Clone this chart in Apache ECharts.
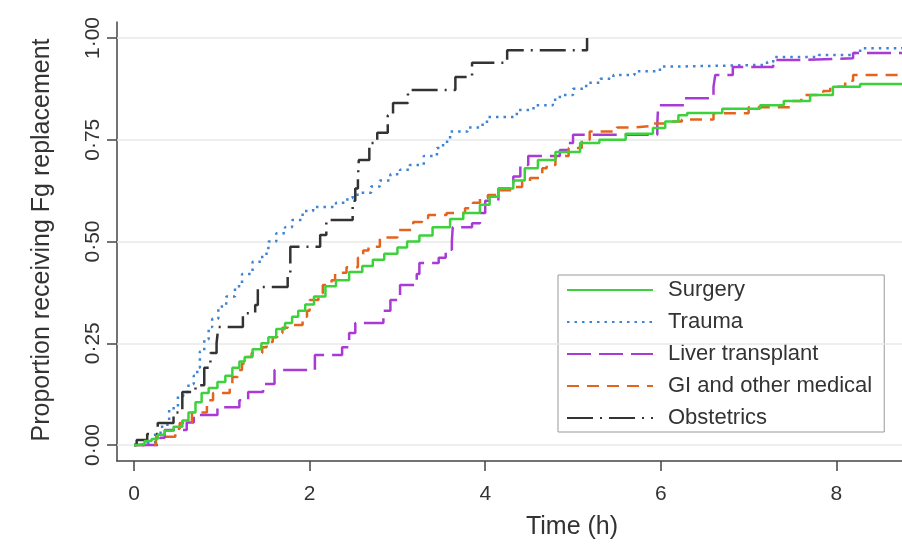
<!DOCTYPE html>
<html>
<head>
<meta charset="utf-8">
<script src="https://cdn.jsdelivr.net/npm/echarts@6/dist/echarts.min.js"></script>
<style>
  html, body { margin: 0; padding: 0; background: #fff; }
  #chart { width: 902px; height: 550px; }
</style>
</head>
<body>
<div id="chart"></div>
<script>
// ---- Data (time in hours, cumulative proportion receiving Fg replacement) ----
const seriesNames = ['Surgery', 'Trauma', 'Liver transplant', 'GI and other medical', 'Obstetrics'];
const xTicks = [0, 2, 4, 6, 8];
const yTicks = [0, 0.25, 0.5, 0.75, 1];
const yTickLabels = ['0·00', '0·25', '0·50', '0·75', '1·00'];

const surgery = [
  [0,0],[0.05,0.003],[0.12,0.01],[0.2,0.015],[0.27,0.025],[0.35,0.035],[0.45,0.045],[0.55,0.06],
  [0.62,0.08],[0.7,0.105],[0.77,0.128],[0.85,0.14],[0.95,0.155],[1.04,0.17],[1.12,0.19],[1.2,0.205],
  [1.26,0.216],[1.35,0.235],[1.45,0.25],[1.53,0.265],[1.62,0.285],[1.72,0.3],[1.8,0.315],[1.87,0.33],
  [1.95,0.345],[2.05,0.365],[2.18,0.39],[2.3,0.405],[2.45,0.425],[2.6,0.44],[2.72,0.455],[2.85,0.47],
  [3.0,0.485],[3.11,0.5],[3.25,0.515],[3.4,0.535],[3.6,0.555],[3.75,0.57],[3.94,0.59],[4.05,0.61],
  [4.15,0.63],[4.32,0.65],[4.45,0.68],[4.6,0.7],[4.8,0.72],[5.08,0.742],[5.3,0.75],[5.6,0.765],
  [5.91,0.779],[6.05,0.795],[6.2,0.81],[6.3,0.816],[6.7,0.826],[7.13,0.835],[7.4,0.845],[7.7,0.86],
  [7.96,0.88],[8.27,0.887],[8.75,0.889]
];
const trauma = [
  [0,0],[0.15,0.005],[0.24,0.03],[0.32,0.05],[0.4,0.09],[0.5,0.12],[0.56,0.13],[0.62,0.15],[0.68,0.17],
  [0.72,0.19],[0.75,0.23],[0.8,0.26],[0.85,0.29],[0.89,0.31],[0.96,0.34],[1.05,0.365],[1.15,0.39],
  [1.23,0.42],[1.35,0.45],[1.46,0.47],[1.53,0.5],[1.62,0.52],[1.72,0.535],[1.8,0.553],[1.92,0.575],
  [2.04,0.585],[2.3,0.595],[2.43,0.607],[2.49,0.615],[2.57,0.62],[2.7,0.635],[2.8,0.65],[2.92,0.665],
  [3.03,0.676],[3.14,0.688],[3.3,0.71],[3.45,0.73],[3.52,0.745],[3.6,0.77],[3.8,0.78],[3.97,0.79],
  [4.02,0.806],[4.36,0.823],[4.55,0.835],[4.77,0.848],[4.85,0.86],[5.0,0.875],[5.15,0.89],[5.31,0.9],
  [5.46,0.909],[5.7,0.918],[5.99,0.93],[6.22,0.934],[7.21,0.941],[7.28,0.953],[7.8,0.958],[8.19,0.963],
  [8.27,0.975],[8.75,0.978]
];
const liver = [
  [0,0],[0.3,0.018],[0.35,0.037],[0.6,0.055],[0.68,0.074],[0.95,0.093],[1.2,0.11],[1.3,0.13],
  [1.47,0.15],[1.6,0.184],[2.06,0.221],[2.37,0.24],[2.45,0.275],[2.52,0.3],[2.84,0.33],[2.92,0.356],
  [3.03,0.393],[3.22,0.42],[3.25,0.447],[3.47,0.46],[3.55,0.48],[3.62,0.5],[3.63,0.535],[3.85,0.545],
  [3.94,0.57],[4.0,0.6],[4.15,0.63],[4.32,0.66],[4.4,0.688],[4.49,0.71],[4.85,0.725],[4.95,0.742],
  [5.0,0.762],[5.96,0.79],[5.97,0.835],[6.27,0.852],[6.6,0.88],[6.62,0.909],[6.82,0.929],[7.28,0.946],
  [7.6,0.95],[8.19,0.963],[8.75,0.963]
];
const giMedical = [
  [0,0],[0.25,0.02],[0.47,0.04],[0.52,0.054],[0.66,0.08],[0.83,0.11],[0.9,0.128],[1.09,0.143],
  [1.12,0.167],[1.18,0.184],[1.23,0.2],[1.29,0.216],[1.34,0.226],[1.46,0.24],[1.51,0.253],[1.58,0.265],
  [1.63,0.275],[1.69,0.288],[1.75,0.295],[1.92,0.315],[1.97,0.33],[2.0,0.356],[2.1,0.373],[2.15,0.393],
  [2.25,0.405],[2.29,0.423],[2.42,0.437],[2.55,0.46],[2.61,0.478],[2.67,0.487],[2.8,0.51],[3.0,0.528],
  [3.18,0.548],[3.28,0.558],[3.35,0.565],[3.56,0.57],[3.77,0.582],[3.86,0.595],[3.94,0.607],[4.03,0.614],
  [4.13,0.626],[4.32,0.634],[4.42,0.646],[4.51,0.656],[4.62,0.663],[4.65,0.68],[4.7,0.688],[4.8,0.71],
  [4.95,0.73],[5.1,0.75],[5.19,0.77],[5.5,0.78],[5.68,0.784],[5.9,0.79],[6.1,0.795],[6.24,0.8],
  [6.6,0.815],[7.0,0.83],[7.5,0.845],[7.6,0.86],[7.85,0.87],[7.93,0.88],[8.1,0.895],[8.19,0.909],[8.75,0.909]
];
const obstetrics = [
  [0,0],[0.03,0.012],[0.15,0.027],[0.27,0.054],[0.45,0.08],[0.55,0.13],[0.7,0.147],[0.8,0.19],
  [0.87,0.226],[0.94,0.25],[0.96,0.29],[1.24,0.324],[1.38,0.344],[1.41,0.388],[1.75,0.42],[1.78,0.487],
  [2.12,0.516],[2.19,0.553],[2.49,0.6],[2.52,0.63],[2.55,0.656],[2.56,0.7],[2.68,0.742],[2.77,0.767],
  [2.89,0.81],[2.95,0.84],[3.12,0.872],[3.66,0.904],[3.85,0.939],[4.25,0.97],[5.16,1.0]
];

const colors = ['#3cd23c', '#3f84d3', '#a93ad6', '#e4641e', '#333333'];
const dashes = ['solid', [2.5, 5], [24, 8], [12, 8], [26, 7, 2, 7]];
const dataSets = [surgery, trauma, liver, giMedical, obstetrics];

const FONT = '"Liberation Sans", Arial, Helvetica, sans-serif';

const series = dataSets.map((d, i) => ({
  name: seriesNames[i],
  type: 'line',
  step: 'end',
  data: d,
  symbol: 'none',
  showSymbol: false,
  silent: true,
  z: i === 0 ? 6 : 5,
  lineStyle: { color: colors[i], width: 2.5, type: dashes[i] },
  itemStyle: { color: colors[i] }
}));

// gridlines series (no data)
series.unshift({
  name: 'grid',
  type: 'line',
  data: [],
  silent: true,
  z: 1,
  markLine: {
    silent: true,
    symbol: 'none',
    label: { show: false },
    lineStyle: { color: '#e9e9e9', width: 1.5, type: 'solid' },
    data: yTicks.map(v => ({ yAxis: v }))
  }
});

const chart = echarts.init(document.getElementById('chart'));
chart.setOption({
  animation: false,
  backgroundColor: '#fff',
  grid: { left: 117, top: 22, right: 0, bottom: 89, containLabel: false },
  xAxis: {
    type: 'value',
    min: -0.194,
    max: 8.747,
    axisLine: { show: true, onZero: false, lineStyle: { color: '#444', width: 1.5 } },
    axisTick: { show: true, length: 10, customValues: xTicks, lineStyle: { color: '#444', width: 1.5 } },
    axisLabel: { customValues: xTicks, margin: 23, fontSize: 21, color: '#333', fontFamily: FONT },
    splitLine: { show: false }
  },
  yAxis: {
    type: 'value',
    min: -0.0393,
    max: 1.0393,
    axisLine: { show: true, onZero: false, lineStyle: { color: '#444', width: 1.5 } },
    axisTick: { show: true, length: 10, customValues: yTicks, lineStyle: { color: '#444', width: 1.5 } },
    axisLabel: {
      customValues: yTicks,
      rotate: 90,
      margin: 13,
      fontSize: 21,
      color: '#333',
      fontFamily: FONT,
      formatter: v => {
        const idx = yTicks.findIndex(t => Math.abs(t - v) < 1e-6);
        return idx >= 0 ? yTickLabels[idx] : '';
      }
    },
    splitLine: { show: false }
  },
  legend: {
    data: seriesNames,
    orient: 'vertical',
    left: 558,
    top: 275,
    padding: [4, 12, 3, 8],
    itemGap: 10,
    itemWidth: 86,
    itemHeight: 14,
    borderColor: '#999',
    borderWidth: 1,
    backgroundColor: '#fff',
    selectedMode: false,
    itemStyle: { opacity: 0 },
    textStyle: { fontSize: 22, color: '#333', fontFamily: FONT, lineHeight: 22, padding: [0, 0, 0, 10] }
  },
  graphic: [
    {
      type: 'text',
      x: 42, y: 240,
      rotation: Math.PI / 2,
      style: {
        text: 'Proportion receiving Fg replacement',
        fontSize: 25, fontFamily: FONT, fill: '#333',
        textAlign: 'center', textVerticalAlign: 'middle'
      }
    },
    {
      type: 'text',
      x: 572, y: 527,
      style: {
        text: 'Time (h)',
        fontSize: 25, fontFamily: FONT, fill: '#333',
        textAlign: 'center', textVerticalAlign: 'middle'
      }
    }
  ],
  series: series
});
</script>
</body>
</html>
